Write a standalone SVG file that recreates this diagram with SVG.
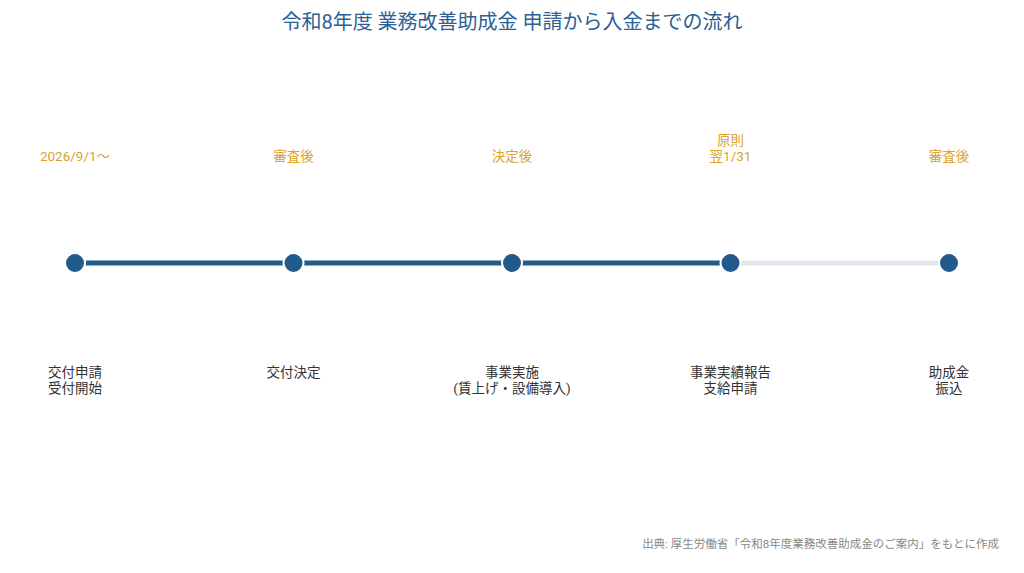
<svg xmlns="http://www.w3.org/2000/svg" width="1024" height="573" viewBox="0 0 1024 573">
<style>
text{font-family:Roboto,"Noto Sans CJK JP",sans-serif;}
.title{font-size:20px;fill:#2b6194;text-anchor:middle;}
.top{font-size:13.5px;fill:#dba22e;text-anchor:middle;}
.bot{font-size:13.5px;fill:#333;text-anchor:middle;}
.foot{font-size:11.5px;fill:#888;text-anchor:end;}
.done{stroke:#215a8b;stroke-width:5;}
.todo{stroke:#e1e5ec;stroke-width:5;}
.dot{fill:#215a8b;stroke:#fff;stroke-width:2;}
</style>
<rect width="1024" height="573" fill="#fff"/>
<text class="title" x="512" y="29">令和8年度 業務改善助成金 申請から入金までの流れ</text>
<g id="connectors">
<line class="done" x1="75" y1="263" x2="293.5" y2="263"/>
<line class="done" x1="293.5" y1="263" x2="512" y2="263"/>
<line class="done" x1="512" y1="263" x2="730.5" y2="263"/>
<line class="todo" x1="730.5" y1="263" x2="949" y2="263"/>
</g>
<g id="node1">
<text class="top" x="75" y="161">2026/9/1～</text>
<circle class="dot" cx="75" cy="263" r="10"/>
<text class="bot" x="75" y="377">交付申請</text>
<text class="bot" x="75" y="393">受付開始</text>
</g>
<g id="node2">
<text class="top" x="293.5" y="161">審査後</text>
<circle class="dot" cx="293.5" cy="263" r="10"/>
<text class="bot" x="293.5" y="377">交付決定</text>
</g>
<g id="node3">
<text class="top" x="512" y="161">決定後</text>
<circle class="dot" cx="512" cy="263" r="10"/>
<text class="bot" x="512" y="377">事業実施</text>
<text class="bot" x="512" y="393">(賃上げ・設備導入)</text>
</g>
<g id="node4">
<text class="top" x="730.5" y="145">原則</text>
<text class="top" x="730.5" y="161">翌1/31</text>
<circle class="dot" cx="730.5" cy="263" r="10"/>
<text class="bot" x="730.5" y="377">事業実績報告</text>
<text class="bot" x="730.5" y="393">支給申請</text>
</g>
<g id="node5">
<text class="top" x="949" y="161">審査後</text>
<circle class="dot" cx="949" cy="263" r="10"/>
<text class="bot" x="949" y="377">助成金</text>
<text class="bot" x="949" y="393">振込</text>
</g>
<text class="foot" x="999" y="548">出典: 厚生労働省「令和8年度業務改善助成金のご案内」をもとに作成</text>
</svg>
